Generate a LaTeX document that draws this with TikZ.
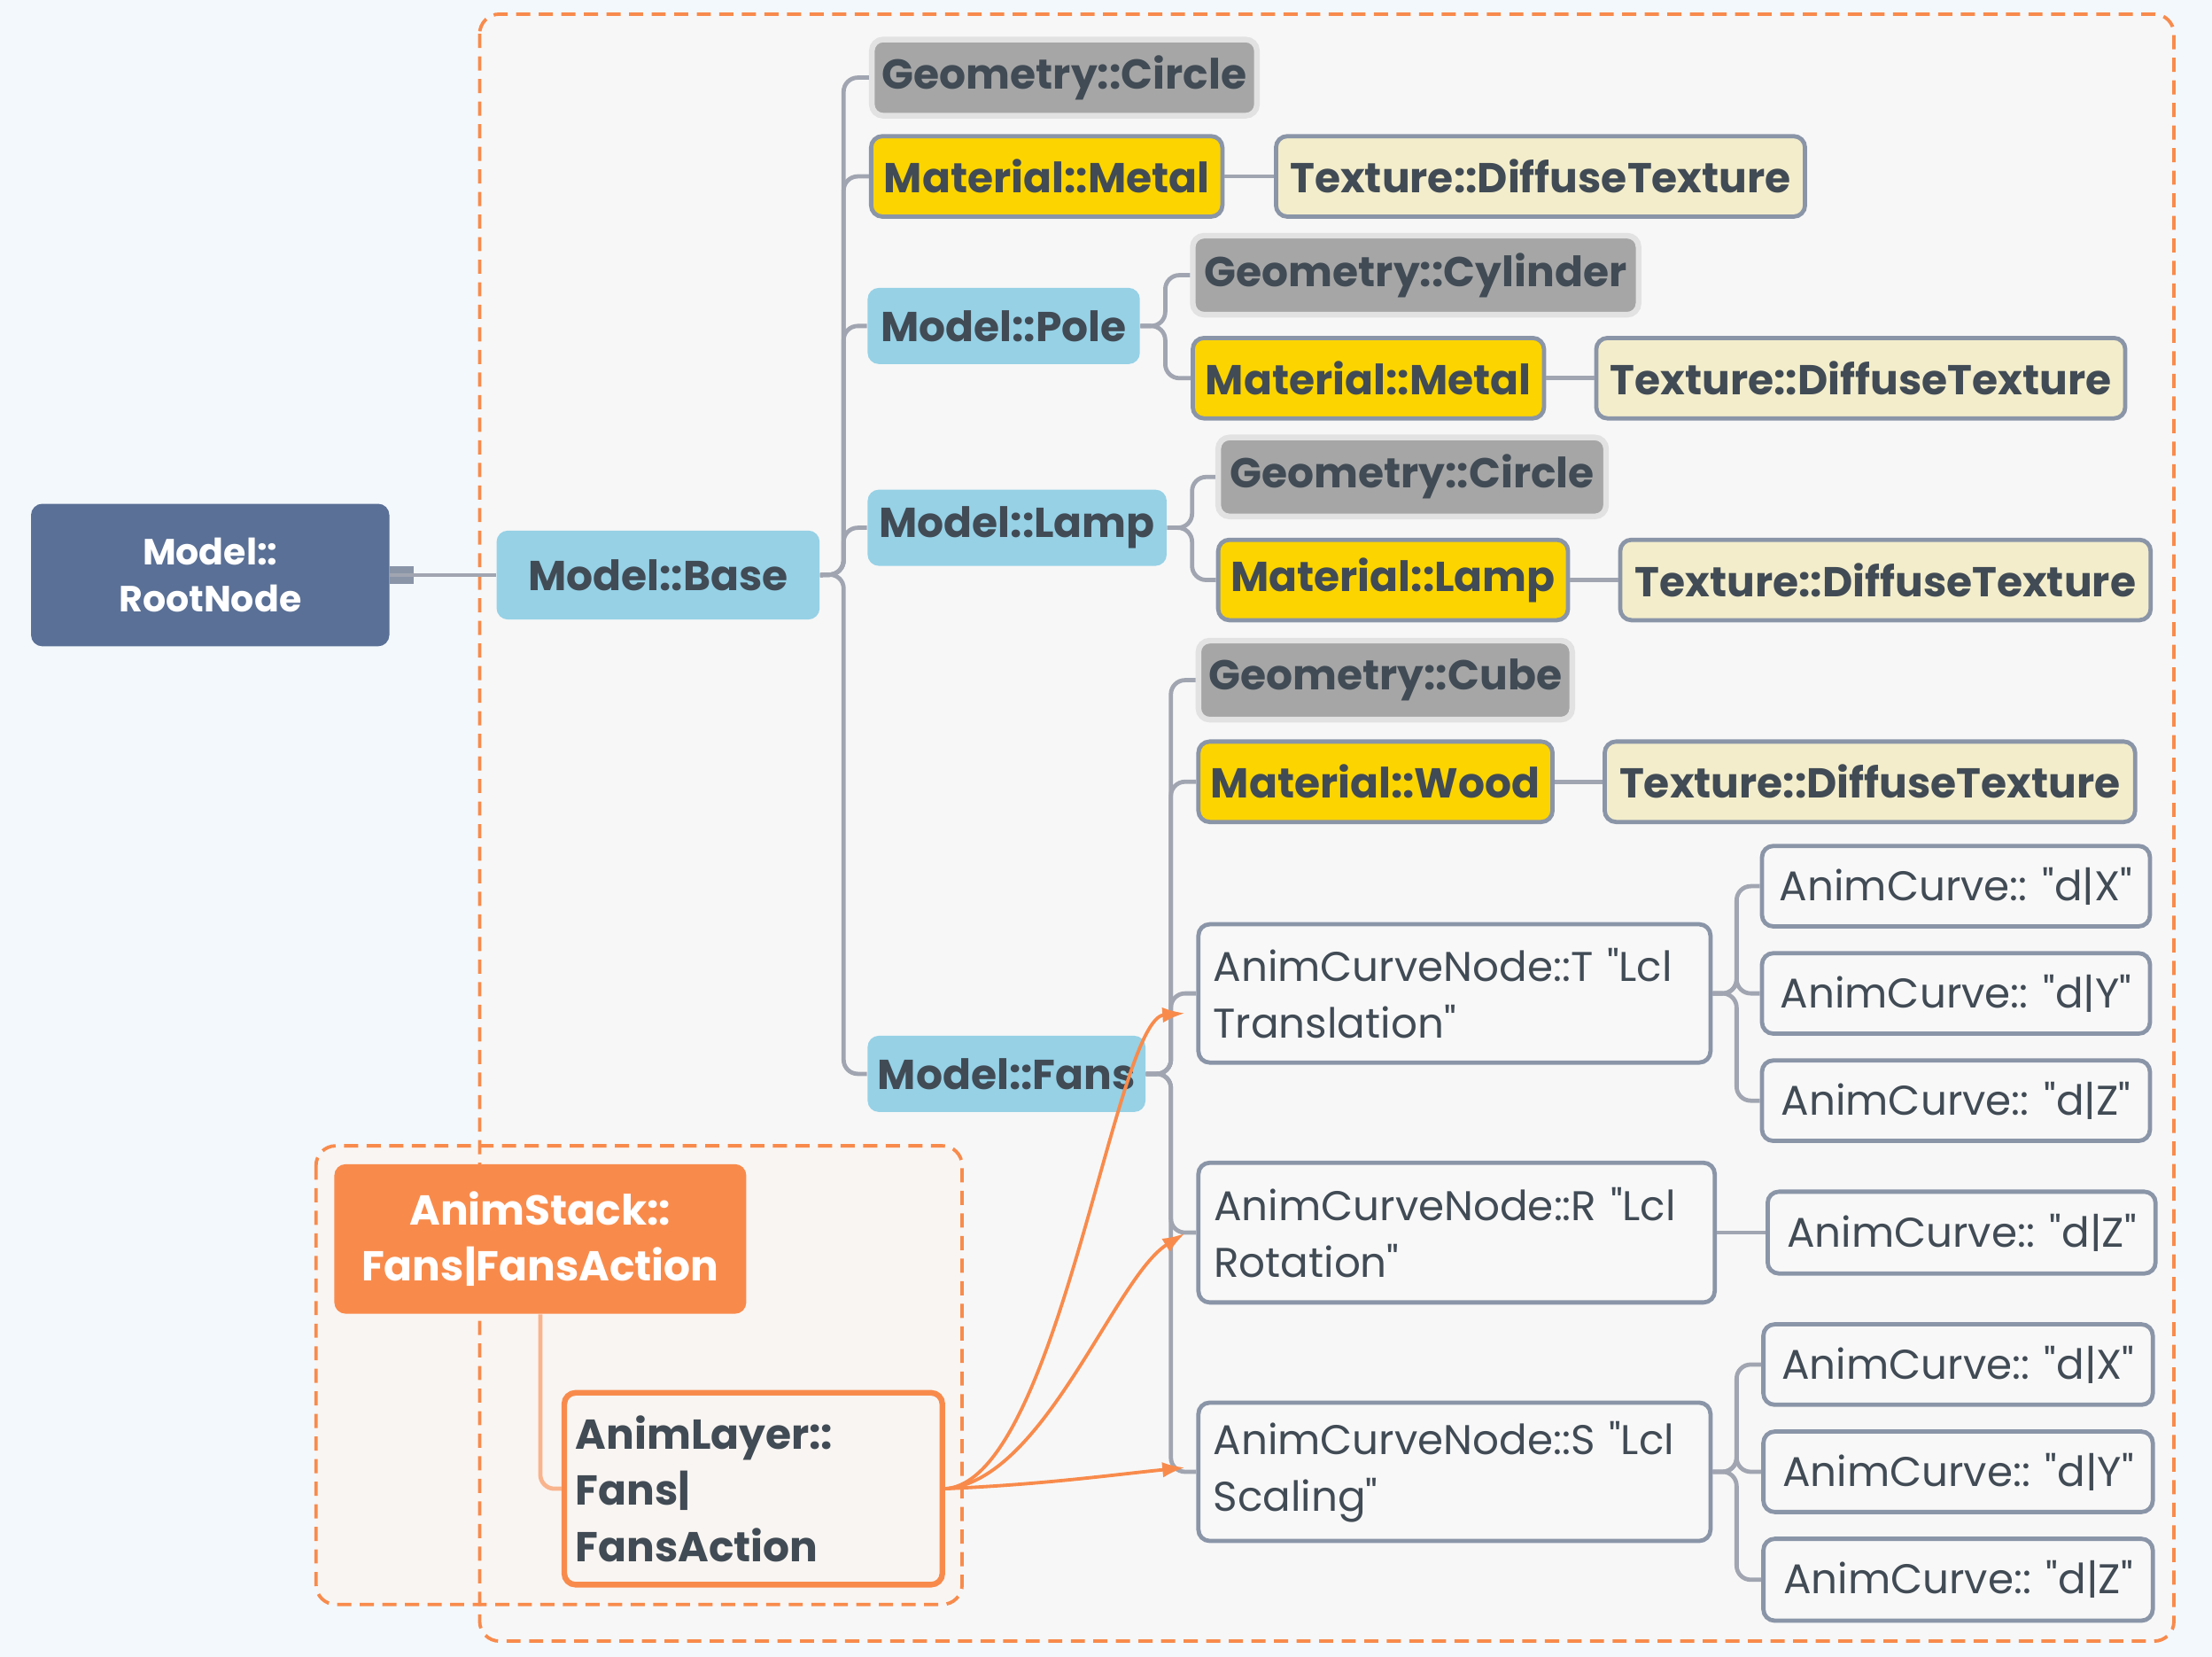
\documentclass[tikz,border=0pt]{standalone}
\usepackage{fontspec}
\setmainfont{Poppins}[Ligatures=TeXOff]
\usetikzlibrary{arrows.meta,positioning}
\definecolor{bgBlue}{HTML}{F3F8FC}
\definecolor{areaGray}{HTML}{F7F7F7}
\definecolor{areaPeach}{HTML}{F9F5F2}
\definecolor{dashOrange}{HTML}{F88B4C}
\definecolor{inkDark}{HTML}{414B55}
\definecolor{rootBlue}{HTML}{5A7096}
\definecolor{mdlBlue}{HTML}{96D1E6}
\definecolor{geoGray}{HTML}{A6A6A6}
\definecolor{geoRim}{HTML}{E2E2E2}
\definecolor{matYellow}{HTML}{FCD400}
\definecolor{texCream}{HTML}{F3EDCB}
\definecolor{rimGray}{HTML}{8A95A8}
\definecolor{linkGray}{HTML}{A0A5B1}
\definecolor{stackLink}{HTML}{F9B48E}
\definecolor{curveFill}{HTML}{F8F8F8}

\tikzset{
  box/.style={rounded corners=4pt, inner sep=0pt, text=inkDark,
    font=\fontsize{14.8}{20}\selectfont\bfseries},
  mdl/.style={box, fill=mdlBlue},
  geo/.style={box, fill=geoGray, draw=geoRim, line width=2pt},
  mat/.style={box, fill=matYellow, draw=rimGray, line width=1.5pt},
  tex/.style={box, fill=texCream, draw=rimGray, line width=1.5pt},
  crv/.style={box, fill=curveFill, draw=rimGray, line width=1.5pt,
    font=\fontsize{14.7}{20}\selectfont},
  crvnode/.style={crv, align=left, text width=#1},
  link/.style={draw=linkGray, line width=1.5pt, rounded corners=5pt},
  anim/.style={draw=dashOrange, line width=1.2pt,
    -{Latex[length=8pt,width=5.5pt]}},
}

\begin{document}
\begin{tikzpicture}[x=0.5pt, y=-0.5pt]
    % background and the two dashed areas
    \fill[bgBlue] (0,0) rectangle (1568,1174);
    \fill[areaGray, rounded corners=7pt] (340,10) rectangle (1541,1163);
    \fill[areaPeach, rounded corners=7pt] (224,812) rectangle (682,1137);
    \draw[dashOrange, line width=1.2pt, dash pattern=on 5pt off 3pt, rounded corners=7pt]
        (340,10) rectangle (1541,1163);
    \draw[dashOrange, line width=1.2pt, dash pattern=on 5pt off 3pt, rounded corners=7pt]
        (224,812) rectangle (682,1137);

    % root and base
    \node[box, fill=rootBlue, text=white, align=center, minimum width=127pt, minimum height=50.5pt,
        font=\fontsize{12.9}{16.5}\selectfont\bfseries] (root) at (149,407.5) {Model::\\RootNode};
    \node[mdl, minimum width=114.5pt, minimum height=31.5pt] (base) at (466.5,407.5) {Model::Base};

    % first level
    \node[geo, minimum width=136.5pt, minimum height=27pt] (geo1) at (754.5,55) {Geometry::Circle};
    \node[mat, minimum width=124.5pt, minimum height=28.5pt] (mat1) at (742,125) {Material::Metal};
    \node[tex, minimum width=187.5pt, minimum height=28.5pt] (tex1) at (1092,125) {Texture::DiffuseTexture};
    \node[mdl, minimum width=96.5pt, minimum height=27pt] (pole) at (711.5,231) {Model::Pole};
    \node[mdl, minimum width=106pt, minimum height=27pt] (lamp) at (721,374) {Model::Lamp};
    \node[mdl, minimum width=98.5pt, minimum height=27pt] (fans) at (713.5,761) {Model::Fans};

    % pole
    \node[geo, minimum width=158pt, minimum height=28pt] (geo2) at (1003.5,195) {Geometry::Cylinder};
    \node[mat, minimum width=124.5pt, minimum height=28.5pt] (mat2) at (970,268) {Material::Metal};
    \node[tex, minimum width=187.5pt, minimum height=28.5pt] (tex2) at (1319,268) {Texture::DiffuseTexture};

    % lamp
    \node[geo, minimum width=137.5pt, minimum height=28pt] (geo3) at (1001,338) {Geometry::Circle};
    \node[mat, minimum width=124pt, minimum height=28.5pt] (mat3) at (987.5,411) {Material::Lamp};
    \node[tex, minimum width=188pt, minimum height=28.5pt] (tex3) at (1336.5,411) {Texture::DiffuseTexture};

    % fans
    \node[geo, minimum width=132.5pt, minimum height=28pt] (geo4) at (982,482) {Geometry::Cube};
    \node[mat, minimum width=125.5pt, minimum height=28.5pt] (mat4) at (975,554) {Material::Wood};
    \node[tex, minimum width=188pt, minimum height=28.5pt] (tex4) at (1325.5,554) {Texture::DiffuseTexture};

    \node[crvnode=171pt, minimum width=181.5pt, minimum height=49pt] (curveT) at (1031,704)
        {AnimCurveNode::T "Lcl\\Translation"};
    \node[crvnode=172pt, minimum width=183pt, minimum height=49.5pt] (curveR) at (1032.5,873.5)
        {AnimCurveNode::R "Lcl\\Rotation"};
    \node[crvnode=171pt, minimum width=181.5pt, minimum height=49pt] (curveS) at (1031,1043)
        {AnimCurveNode::S "Lcl\\Scaling"};

    % curves
    \node[crv, minimum width=137.5pt, minimum height=28.5pt] (cTx) at (1386.5,628) {AnimCurve:: "d|X"};
    \node[crv, minimum width=137.5pt, minimum height=28.5pt] (cTy) at (1386.5,704) {AnimCurve:: "d|Y"};
    \node[crv, minimum width=137.5pt, minimum height=28.5pt] (cTz) at (1386.5,780) {AnimCurve:: "d|Z"};
    \node[crv, minimum width=137.5pt, minimum height=29pt] (cRz) at (1390.5,873.5) {AnimCurve:: "d|Z"};
    \node[crv, minimum width=138pt, minimum height=28.5pt] (cSx) at (1388,967) {AnimCurve:: "d|X"};
    \node[crv, minimum width=138pt, minimum height=28.5pt] (cSy) at (1388,1043) {AnimCurve:: "d|Y"};
    \node[crv, minimum width=138pt, minimum height=29pt] (cSz) at (1388,1119.5) {AnimCurve:: "d|Z"};

    % anim stack and layer
    \node[box, fill=dashOrange, text=white, align=center, minimum width=146pt, minimum height=53pt]
        (stack) at (383,878) {AnimStack::\\Fans|FansAction};
    \node[box, fill=areaPeach, draw=dashOrange, line width=2pt, align=left, text width=126pt,
        minimum width=134pt, minimum height=68pt] (layer) at (534,1055) {AnimLayer::\\Fans|\\FansAction};

    % junctions
    \coordinate (jBase) at (598,407);
    \coordinate (jPole) at (826,231);
    \coordinate (jLamp) at (845,374);
    \coordinate (jFans) at (830,761);
    \coordinate (jT) at (1231,704);
    \coordinate (jS) at (1231,1043);
    \coordinate (jStack) at (383,1055);

    % links
    \fill[rimGray] (root.east) ++(0,-6) rectangle ++(17,12);
    \draw[link] (root.east) -- (base.west);
    \foreach \kid in {geo1,mat1,pole,lamp,fans}
        \draw[link] (base.east) -- (jBase) |- (\kid.west);
    \foreach \kid in {geo2,mat2}
        \draw[link] (pole.east) -- (jPole) |- (\kid.west);
    \foreach \kid in {geo3,mat3}
        \draw[link] (lamp.east) -- (jLamp) |- (\kid.west);
    \foreach \kid in {geo4,mat4,curveT,curveR,curveS}
        \draw[link] (fans.east) -- (jFans) |- (\kid.west);
    \foreach \kid in {cTx,cTy,cTz}
        \draw[link] (curveT.east) -- (jT) |- (\kid.west);
    \foreach \kid in {cSx,cSy,cSz}
        \draw[link] (curveS.east) -- (jS) |- (\kid.west);
    \draw[link] (curveR.east) -- (cRz.west);
    \draw[link] (mat1.east) -- (tex1.west);
    \draw[link] (mat2.east) -- (tex2.west);
    \draw[link] (mat3.east) -- (tex3.west);
    \draw[link] (mat4.east) -- (tex4.west);
    \draw[draw=stackLink, line width=1.5pt, rounded corners=5pt] (stack.south) -- (jStack) -- (layer.west);

    % animation arrows
    \coordinate (aT) at (840,718);
    \coordinate (aR) at (840,874);
    \coordinate (aS) at (840,1040);
    \draw[anim] (layer.east) .. controls (750,1050) and (790,722) .. (aT);
    \draw[anim] (layer.east) .. controls (740,1050) and (790,905) .. (aR);
    \draw[anim] (layer.east) .. controls (740,1052) and (790,1045) .. (aS);
\end{tikzpicture}
\end{document}
